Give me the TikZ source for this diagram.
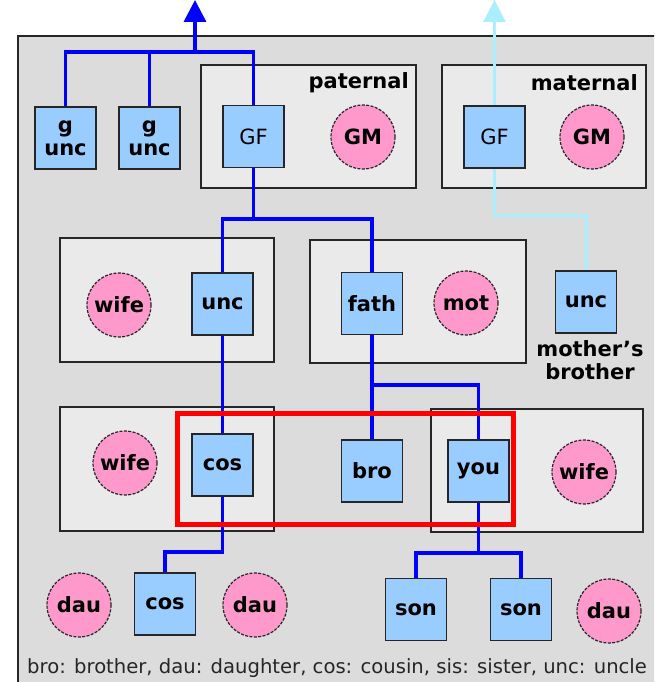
\documentclass[tikz,border=0pt]{standalone}
\usepackage{fontspec}
\usetikzlibrary{arrows.meta}
\newfontfamily\dvs{DejaVu Sans}
\newcommand{\labfont}{\dvs\bfseries\fontsize{21}{23}\selectfont}
\newcommand{\gffont}{\dvs\fontsize{21}{23}\selectfont}
\newcommand{\footfont}{\dvs\fontsize{19.6}{22}\selectfont}
\definecolor{bggray}{HTML}{DCDCDC}
\definecolor{famgray}{HTML}{EAEAEA}
\definecolor{boxblue}{HTML}{99CCFF}
\definecolor{pinkfill}{HTML}{FF99CC}
\definecolor{lineblue}{HTML}{0000FF}
\definecolor{lightline}{HTML}{AAEEFF}
\definecolor{marked}{HTML}{FF0000}
\tikzset{
  malebox/.style={draw=black!85, line width=1.3pt, fill=boxblue, minimum width=61pt, minimum height=62pt, inner sep=0pt, font=\labfont, align=center},
  femcirc/.style={circle, draw=black!85, line width=1.2pt, dash pattern=on 3pt off 1.4pt, fill=pinkfill, minimum size=64pt, inner sep=0pt, font=\labfont},
  famrect/.style={draw=black!85, line width=1.5pt, fill=famgray},
  bloodline/.style={draw=lineblue, line width=3.5pt},
  matline/.style={draw=lightline, line width=3pt},
  youmark/.style={draw=marked, line width=5pt},
  grouplbl/.style={font=\labfont, anchor=east, inner sep=0pt},
  bigtip/.style={-{Triangle[length=22pt,width=22pt]}}
}
\begin{document}
\begin{tikzpicture}[x=1pt,y=-1pt]
\useasboundingbox (0,0) rectangle (654,682);
\clip (0,0) rectangle (654,682);
% outer panel
\draw[fill=bggray, draw=black!85, line width=2pt] (18,36) rectangle (680,700);
% family boxes
\draw[famrect] (201,65) rectangle (416,188);
\draw[famrect] (442,65) rectangle (646,188);
\draw[famrect] (60,238) rectangle (274,362);
\draw[famrect] (310,240) rectangle (526,363);
\draw[famrect] (60,407) rectangle (274,531);
\draw[famrect] (431,409) rectangle (643,532);
% group labels
\node[grouplbl] (patlbl) at (409,83) {paternal};
\node[grouplbl] (matlbl) at (638,83) {maternal};
% persons
\node[malebox] (gunc1) at (65.5,138) {g\\unc};
\node[malebox] (gunc2) at (149.5,138) {g\\unc};
\node[malebox, font=\gffont] (pGF) at (253.5,136.5) {GF};
\node[femcirc] (pGM) at (363,137) {GM};
\node[malebox, font=\gffont] (mGF) at (494.5,137) {GF};
\node[femcirc] (mGM) at (592,137) {GM};
\node[femcirc] (wife1) at (119,305) {wife};
\node[malebox] (unc) at (222.5,304) {unc};
\node[malebox] (fath) at (372,303.5) {fath};
\node[femcirc] (mot) at (466,303) {mot};
\node[malebox] (munc) at (586,302) {unc};
\node[font=\labfont, align=center, anchor=north, inner sep=0pt] (mbro) at (590,340) {mother’s\\brother};
\node[femcirc] (wife2) at (125,463) {wife};
\node[malebox] (cos) at (222.5,465) {cos};
\node[malebox] (bro) at (372,471) {bro};
\node[malebox] (you) at (478.5,471) {you};
\node[femcirc] (wife3) at (584,472) {wife};
\node[femcirc] (dau1) at (79,605) {dau};
\node[malebox] (cos2) at (165,604) {cos};
\node[femcirc] (dau2) at (255,605) {dau};
\node[malebox] (son1) at (416,609.5) {son};
\node[malebox] (son2) at (521,609.5) {son};
\node[femcirc] (dau3) at (609,611) {dau};
% helper coordinates
\coordinate (ptop) at (195,0);
\coordinate (h0) at (0,52);
\coordinate (h1) at (0,219);
\coordinate (h1m) at (0,215);
\coordinate (h2) at (0,385);
\coordinate (h3) at (0,552);
\coordinate (h4) at (0,553);
% connectors (paternal line)
\draw[bloodline] (gunc1.north) -- (gunc1.north |- h0) -- (pGF.north |- h0) -- (pGF.north);
\draw[bloodline] (gunc2.north) -- (gunc2.north |- h0);
\draw[bloodline, bigtip] (ptop |- h0) -- (ptop);
\draw[bloodline] (pGF.south) -- (pGF.south |- h1);
\draw[bloodline] (unc.north) -- (unc.north |- h1) -- (fath.north |- h1) -- (fath.north);
\draw[bloodline] (unc.south) -- (cos.north);
\draw[bloodline] (fath.south) -- (bro.north);
\draw[bloodline] (fath.south |- h2) -- (you.north |- h2) -- (you.north);
\draw[bloodline] (cos.south) -- (cos.south |- h3) -- (cos2.north |- h3) -- (cos2.north);
\draw[bloodline] (you.south) -- (you.south |- h4);
\draw[bloodline] (son1.north) -- (son1.north |- h4) -- (son2.north |- h4) -- (son2.north);
% maternal line
\draw[matline, bigtip] (mGF.north) -- (mGF.north |- ptop);
\draw[matline] (mGF.south) -- (mGF.south |- h1m) -- (munc.north |- h1m) -- (munc.north);
% you marker
\draw[youmark] (177,413) rectangle (513,524);
% footer
\node[font=\footfont, anchor=west, inner sep=0pt, text=black!85] (legend) at (27,668) {bro: brother, dau: daughter, cos: cousin, sis: sister, unc: uncle};
\end{tikzpicture}
\end{document}
